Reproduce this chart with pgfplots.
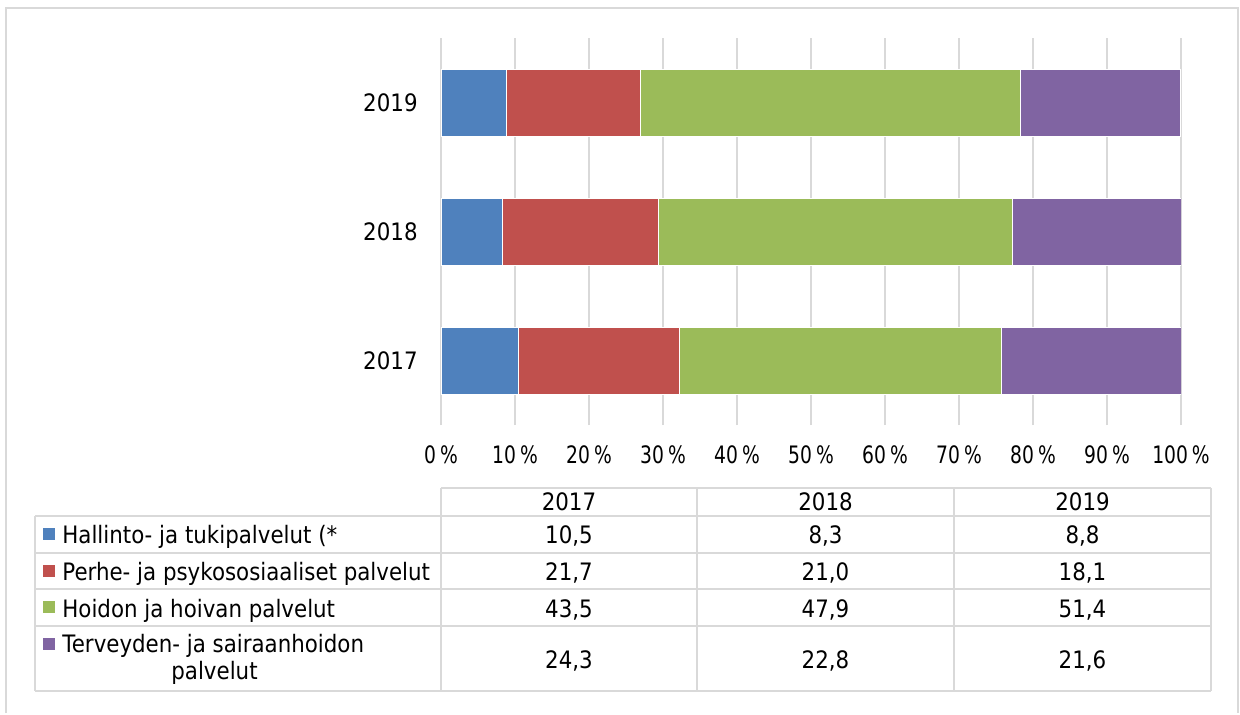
\documentclass[border=0pt]{standalone}
\usepackage{fontspec}
\setmainfont{DejaVu Sans}[FakeStretch=0.89]
\newfontfamily\tickfont{DejaVu Sans}[FakeStretch=0.78]
\usepackage{pgfplots}
\pgfplotsset{compat=1.18}
\definecolor{c1}{HTML}{4F81BD}
\definecolor{c2}{HTML}{C0504D}
\definecolor{c3}{HTML}{9BBB59}
\definecolor{c4}{HTML}{8064A2}
\definecolor{gridc}{HTML}{D9D9D9}
\begin{document}
\begin{tikzpicture}[font=\fontsize{12pt}{14pt}\selectfont]
\begin{scope}[x=0.5pt,y=-0.5pt]
\path[use as bounding box, fill=white] (0,0) rectangle (1240,713);
\end{scope}
\begin{axis}[
  at={(220.5pt,-212.5pt)}, anchor=south west,
  scale only axis, width=370pt, height=193.5pt,
  xbar stacked, bar width=33.5pt,
  xmin=0, xmax=100, ymin=-0.5, ymax=2.5,
  ytick={0,1,2}, yticklabels={2017,2018,2019},
  xtick={0,10,20,30,40,50,60,70,80,90,100},
  /pgf/number format/assume math mode=true,
  xticklabel={\tickfont\pgfmathprintnumber{\tick}\,\%},
  xticklabel style={anchor=north, inner sep=0pt, yshift=-10pt, font=\fontsize{12pt}{14pt}\selectfont},
  yticklabel style={anchor=east, inner sep=0pt, xshift=-11.5pt, font=\fontsize{12pt}{14pt}\selectfont},
  xmajorgrids, grid style={draw=gridc, line width=0.7pt},
  axis line style={draw=none}, major tick length=0pt,
  every axis plot/.append style={draw=white, line width=0.3pt},
]
\addplot[fill=c1] coordinates {(10.5,0) (8.3,1) (8.8,2)};
\addplot[fill=c2] coordinates {(21.7,0) (21.0,1) (18.1,2)};
\addplot[fill=c3] coordinates {(43.5,0) (47.9,1) (51.4,2)};
\addplot[fill=c4] coordinates {(24.3,0) (22.8,1) (21.6,2)};
\end{axis}
\begin{scope}[x=0.5pt,y=-0.5pt]
% outer frame
\draw[gridc, line width=1pt] (6,713) -- (6,8) -- (1238,8) -- (1238,713);
% table lines
\draw[gridc, line width=0.7pt]
  (441,488) -- (1211,488)
  (35,516) -- (1211,516)
  (35,553) -- (1211,553)
  (35,589) -- (1211,589)
  (35,626) -- (1211,626)
  (35,691) -- (1211,691)
  (35,516) -- (35,691)
  (441,488) -- (441,691)
  (697,488) -- (697,691)
  (954,488) -- (954,691)
  (1211,488) -- (1211,691);
% header
\node[anchor=base, inner sep=0pt] at (569,510) {2017};
\node[anchor=base, inner sep=0pt] at (825.5,510) {2018};
\node[anchor=base, inner sep=0pt] at (1082.5,510) {2019};
% legend markers
\fill[c1] (43,528) rectangle (55,540);
\fill[c2] (43,565) rectangle (55,577);
\fill[c3] (43,601) rectangle (55,613);
\fill[c4] (43,638) rectangle (55,650);
% legend texts
\node[anchor=base west, inner sep=0pt] at (62,543) {Hallinto- ja tukipalvelut (*};
\node[anchor=base west, inner sep=0pt] at (62,580) {Perhe- ja psykososiaaliset palvelut};
\node[anchor=base west, inner sep=0pt] at (62,617) {Hoidon ja hoivan palvelut};
\node[anchor=base west, inner sep=0pt] at (62,652) {Terveyden- ja sairaanhoidon};
\node[anchor=base, inner sep=0pt] at (214.5,679) {palvelut};
% values
\node[anchor=base, inner sep=0pt] at (569,543) {10,5};
\node[anchor=base, inner sep=0pt] at (825.5,543) {8,3};
\node[anchor=base, inner sep=0pt] at (1082.5,543) {8,8};
\node[anchor=base, inner sep=0pt] at (569,580) {21,7};
\node[anchor=base, inner sep=0pt] at (825.5,580) {21,0};
\node[anchor=base, inner sep=0pt] at (1082.5,580) {18,1};
\node[anchor=base, inner sep=0pt] at (569,617) {43,5};
\node[anchor=base, inner sep=0pt] at (825.5,617) {47,9};
\node[anchor=base, inner sep=0pt] at (1082.5,617) {51,4};
\node[anchor=base, inner sep=0pt] at (569,668) {24,3};
\node[anchor=base, inner sep=0pt] at (825.5,668) {22,8};
\node[anchor=base, inner sep=0pt] at (1082.5,668) {21,6};
\end{scope}
\end{tikzpicture}
\end{document}
